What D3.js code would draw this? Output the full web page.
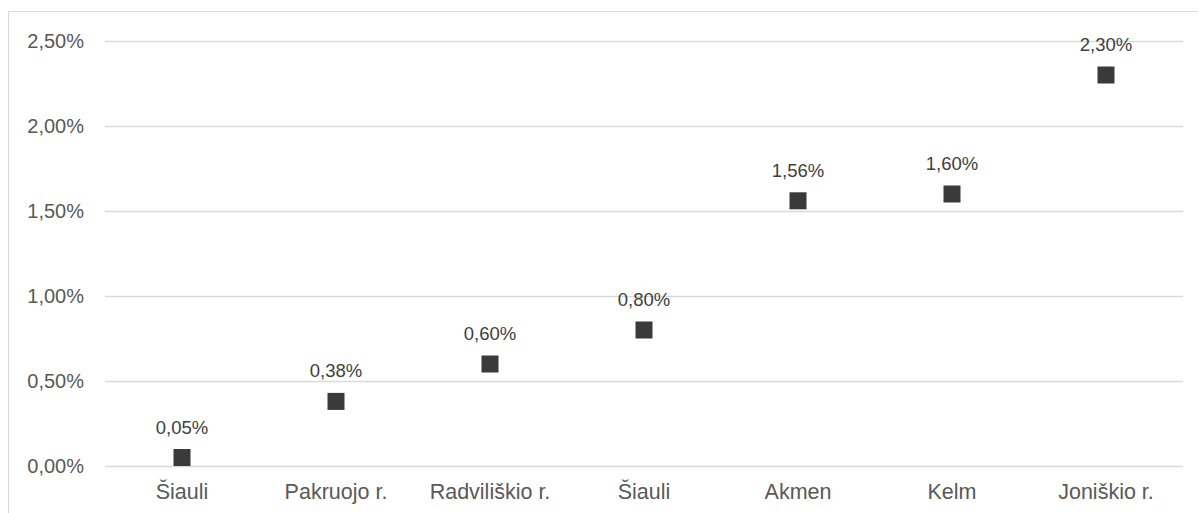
<!DOCTYPE html>
<html>
<head>
<meta charset="utf-8">
<script src="https://cdn.jsdelivr.net/npm/d3@7"></script>
<style>
  html, body { margin: 0; padding: 0; background: #fff; }
  svg { display: block; font-family: "Liberation Sans", Arial, sans-serif; }
</style>
</head>
<body>
<div id="chart"></div>
<script>
const categories = ['Šiauli', 'Pakruojo r.', 'Radviliškio r.', 'Šiauli', 'Akmen', 'Kelm', 'Joniškio r.'];
const values = [0.05, 0.38, 0.60, 0.80, 1.56, 1.60, 2.30];
const yTicks = [0, 0.5, 1.0, 1.5, 2.0, 2.5];

const width = 1198, height = 513;
const margin = { top: 41, right: 15, bottom: 47, left: 105 };
const innerW = width - margin.left - margin.right;
const innerH = height - margin.top - margin.bottom;

const fmt = v => v.toFixed(2).replace('.', ',') + '%';

const svg = d3.select('#chart')
  .append('svg')
  .attr('width', width)
  .attr('height', height);

// chart frame
svg.append('rect')
  .attr('x', 8.5)
  .attr('y', 11.5)
  .attr('width', width)
  .attr('height', height)
  .attr('fill', 'none')
  .attr('stroke', '#d9d9d9')
  .attr('stroke-width', 1);

const g = svg.append('g')
  .attr('transform', `translate(${margin.left},${margin.top})`);

const x = d3.scaleBand()
  .domain(d3.range(categories.length))
  .range([0, innerW]);

const y = d3.scaleLinear()
  .domain([0, 2.5])
  .range([innerH, 0]);

// gridlines
g.append('g')
  .selectAll('line')
  .data(yTicks)
  .enter()
  .append('line')
  .attr('x1', 0)
  .attr('x2', innerW)
  .attr('y1', d => Math.round(y(d)) + 0.5)
  .attr('y2', d => Math.round(y(d)) + 0.5)
  .attr('stroke', '#d9d9d9')
  .attr('stroke-width', 1.5);

// y axis labels
const yAxis = g.append('g')
  .call(d3.axisLeft(y).tickValues(yTicks).tickFormat(fmt).tickSize(0).tickPadding(21));
yAxis.select('.domain').remove();
yAxis.selectAll('text')
  .attr('fill', '#595959')
  .attr('font-size', '20px')
  .attr('font-family', '"Liberation Sans", Arial, sans-serif');

// x axis labels
const xAxis = g.append('g')
  .attr('transform', `translate(0,${innerH})`)
  .call(d3.axisBottom(x).tickFormat(i => categories[i]).tickSize(0).tickPadding(18));
xAxis.select('.domain').remove();
xAxis.selectAll('text')
  .attr('fill', '#595959')
  .attr('font-size', '21.5px')
  .attr('font-family', '"Liberation Sans", Arial, sans-serif');

// markers
const sq = 17;
g.append('g')
  .selectAll('rect')
  .data(values)
  .enter()
  .append('rect')
  .attr('x', (d, i) => x(i) + x.bandwidth() / 2 - sq / 2)
  .attr('y', d => y(d) - sq / 2)
  .attr('width', sq)
  .attr('height', sq)
  .attr('fill', '#3a3a3a');

// data labels
g.append('g')
  .selectAll('text')
  .data(values)
  .enter()
  .append('text')
  .attr('x', (d, i) => x(i) + x.bandwidth() / 2)
  .attr('y', d => y(d) - 24)
  .attr('text-anchor', 'middle')
  .attr('font-size', '18.5px')
  .attr('fill', '#404040')
  .text(fmt);
</script>
</body>
</html>
